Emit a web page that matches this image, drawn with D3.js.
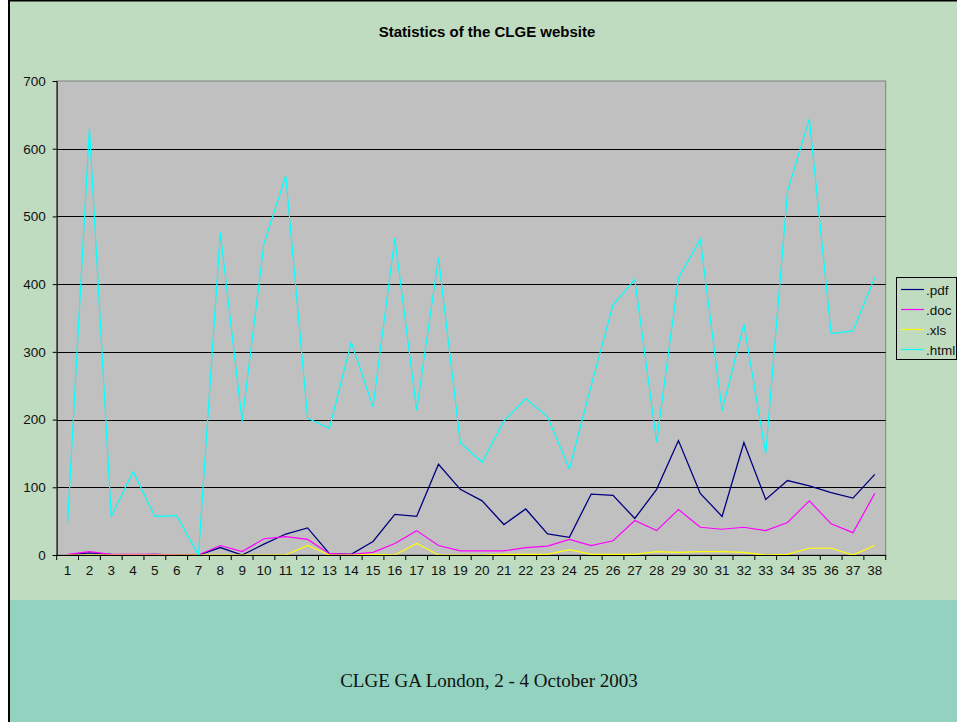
<!DOCTYPE html>
<html>
<head>
<meta charset="utf-8">
<script src="https://cdn.jsdelivr.net/npm/d3@7"></script>
<style>
  html, body { margin: 0; padding: 0; background: #ffffff; }
  svg { display: block; }
</style>
</head>
<body>
<div id="chart"></div>
<script>
const categories = d3.range(1, 39).map(String);
const pdfValues  = [0, 3, 1, 0, 1, 0, 0, 11, 0, 16, 31, 40, 2, 1, 20, 60, 57, 134, 97, 80, 45, 68, 31, 26, 90, 88, 54, 97, 169, 91, 57, 166, 82, 110, 102, 92, 84, 119];
const docValues  = [1, 5, 1, 1, 1, 0, 0, 14, 5, 24, 27, 23, 2, 1, 4, 17, 36, 14, 6, 6, 6, 11, 13, 23, 14, 21, 51, 36, 67, 41, 38, 41, 36, 48, 80, 46, 33, 91];
const xlsValues  = [0, 0, 0, 0, 0, 0, 0, 0, 0, 0, 0, 14, 0, 0, 1, 0, 17, 0, 0, 0, 1, 1, 1, 8, 1, 1, 1, 5, 4, 5, 5, 4, 0, 1, 10, 10, 0, 14];
const htmlValues = [47, 630, 57, 123, 57, 58, 0, 476, 197, 460, 560, 202, 187, 314, 219, 468, 214, 439, 166, 137, 198, 231, 204, 127, 250, 369, 407, 167, 409, 466, 213, 341, 150, 537, 644, 327, 331, 410];
const seriesNames = [".pdf", ".doc", ".xls", ".html"];
const seriesColors = ["#000080", "#FF00FF", "#FFFF00", "#00FFFF"];
const yTicks = [0, 100, 200, 300, 400, 500, 600, 700];
const titleText = "Statistics of the CLGE website";
const footerText = "CLGE GA London, 2 - 4 October 2003";

(function () {
const W = 957, H = 722;
const svg = d3.select("#chart").append("svg").attr("width", W).attr("height", H);

// backgrounds
svg.append("rect").attr("x", 0).attr("y", 0).attr("width", W).attr("height", H).attr("fill", "#ffffff");
svg.append("rect").attr("x", 8).attr("y", 0).attr("width", W - 8).attr("height", 600).attr("fill", "#C0DCC0");
svg.append("rect").attr("x", 8).attr("y", 600).attr("width", W - 8).attr("height", H - 600).attr("fill", "#92D2BF");
svg.append("rect").attr("x", 8).attr("y", 0).attr("width", 2).attr("height", H).attr("fill", "#000");
svg.append("rect").attr("x", 8).attr("y", 0).attr("width", W - 8).attr("height", 1.5).attr("fill", "#000");

const pL = 56.7, pR = 885.7, pT = 81, pB = 555;

const x = d3.scaleBand().domain(categories).range([pL, pR]).padding(0);
const xc = c => x(c) + x.bandwidth() / 2;
const y = d3.scaleLinear().domain([0, 700]).range([pB, pT]);

// plot area
svg.append("rect").attr("x", pL).attr("y", pT).attr("width", pR - pL).attr("height", pB - pT)
  .attr("fill", "#C0C0C0").attr("stroke", "#808080").attr("stroke-width", 1);

// gridlines
svg.append("g").selectAll("line").data(yTicks.filter(t => t > 0 && t < 700)).join("line")
  .attr("x1", pL).attr("x2", pR)
  .attr("y1", d => Math.round(y(d)) + 0.5).attr("y2", d => Math.round(y(d)) + 0.5)
  .attr("stroke", "#000").attr("stroke-width", 1);

// series
const series = [pdfValues, docValues, xlsValues, htmlValues];
const line = d3.line().x((d, i) => xc(categories[i])).y(d => y(d));
series.forEach((vals, k) => {
  svg.append("path").datum(vals).attr("d", line)
    .attr("fill", "none").attr("stroke", seriesColors[k])
    .attr("stroke-width", k === 0 ? 1.3 : 1.2).attr("stroke-linejoin", "miter");
});

// axes
const yAxis = d3.axisLeft(y).tickValues(yTicks).tickSize(4).tickPadding(7);
const gy = svg.append("g").attr("transform", `translate(${pL},0)`).call(yAxis);
gy.select(".domain").attr("stroke", "#000");
gy.selectAll(".tick line").attr("stroke", "#000");
gy.selectAll("text").attr("font-family", "Arial, 'Liberation Sans', sans-serif").attr("font-size", 13.5).attr("fill", "#111");

const xAxis = d3.axisBottom(x).tickSize(0).tickPadding(10);
const gx = svg.append("g").attr("transform", `translate(0,${pB})`).call(xAxis);
gx.select(".domain").attr("stroke", "#000");
gx.selectAll("text").attr("font-family", "Arial, 'Liberation Sans', sans-serif").attr("font-size", 13.5).attr("fill", "#111");
gx.append("g").selectAll("line").data(d3.range(categories.length + 1)).join("line")
  .attr("x1", i => pL + i * x.bandwidth()).attr("x2", i => pL + i * x.bandwidth())
  .attr("y1", 0).attr("y2", 5).attr("stroke", "#000");

// title
svg.append("text").attr("x", 487).attr("y", 37).attr("text-anchor", "middle")
  .attr("font-family", "Arial, 'Liberation Sans', sans-serif").attr("font-weight", "bold").attr("font-size", 15)
  .attr("fill", "#000").text(titleText);

// legend
const lg = svg.append("g");
lg.append("rect").attr("x", 896.5).attr("y", 277.5).attr("width", 60).attr("height", 82)
  .attr("fill", "#C0DCC0").attr("stroke", "#000").attr("stroke-width", 1);
seriesNames.forEach((n, i) => {
  const cy = 289.5 + i * 20;
  lg.append("line").attr("x1", 901).attr("x2", 924).attr("y1", cy).attr("y2", cy)
    .attr("stroke", seriesColors[i]).attr("stroke-width", 1.2);
  lg.append("text").attr("x", 926).attr("y", cy + 5)
    .attr("font-family", "Arial, 'Liberation Sans', sans-serif").attr("font-size", 13.5).attr("fill", "#111").text(n);
});

// footer
svg.append("text").attr("x", 489).attr("y", 687).attr("text-anchor", "middle")
  .attr("font-family", "'Times New Roman', 'Liberation Serif', serif").attr("font-size", 19)
  .attr("fill", "#111").text(footerText);
})();
</script>
</body>
</html>
